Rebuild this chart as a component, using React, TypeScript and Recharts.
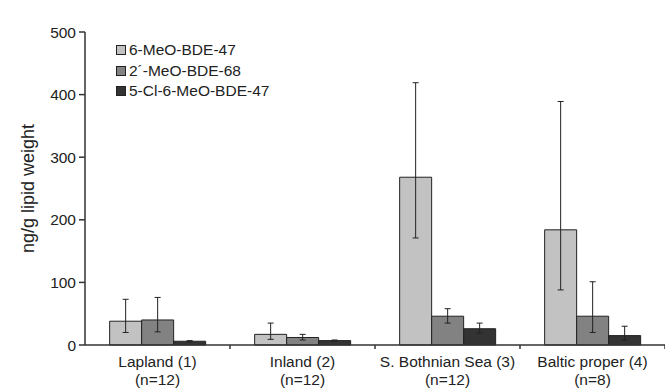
import React from "react";
import { BarChart, Bar, XAxis, YAxis, ErrorBar } from "recharts";

const sites = ["Lapland (1)", "Inland (2)", "S. Bothnian Sea (3)", "Baltic proper (4)"];
const counts = ["(n=12)", "(n=12)", "(n=12)", "(n=8)"];

const seriesNames = ["6-MeO-BDE-47", "2\u00b4-MeO-BDE-68", "5-Cl-6-MeO-BDE-47"];
const seriesColors = ["#c2c2c2", "#828282", "#333333"];

// mean values and error ranges (low / high)
const meoBde47 = [38, 17, 268, 184];
const meoBde47Low = [20, 9, 171, 88];
const meoBde47High = [73, 35, 419, 389];

const meoBde68 = [40, 12, 46, 46];
const meoBde68Low = [21, 8, 35, 20];
const meoBde68High = [76, 17, 58, 101];

const clMeoBde47 = [6, 7, 26, 15];
const clMeoBde47Low = [5, 6, 19, 8];
const clMeoBde47High = [7, 8, 35, 30];

const yTicks = [0, 100, 200, 300, 400, 500];

const data = sites.map((site, i) => ({
  site,
  n: counts[i],
  s1: meoBde47[i],
  e1: [meoBde47[i] - meoBde47Low[i], meoBde47High[i] - meoBde47[i]],
  s2: meoBde68[i],
  e2: [meoBde68[i] - meoBde68Low[i], meoBde68High[i] - meoBde68[i]],
  s3: clMeoBde47[i],
  e3: [clMeoBde47[i] - clMeoBde47Low[i], clMeoBde47High[i] - clMeoBde47[i]],
}));

const W = 665;
const H = 388;
const Y_AXIS_W = 85;
const PLOT_W = W - Y_AXIS_W;
const HALF_BAND = PLOT_W / sites.length / 2;
const FONT = "'Liberation Sans', Arial, sans-serif";
const INK = "#222";

const SiteTick = (props: any) => {
  const { x, y, payload, index } = props;
  return (
    <g>
      <line x1={x + HALF_BAND} x2={x + HALF_BAND} y1={y} y2={y + 4} stroke="#333" strokeWidth={1.5} />
      <text x={x} y={y + 22} textAnchor="middle" fontSize={15.5} fill={INK} fontFamily={FONT}>
        {payload.value}
      </text>
      <text x={x} y={y + 40} textAnchor="middle" fontSize={15.5} fill={INK} fontFamily={FONT}>
        {counts[index]}
      </text>
    </g>
  );
};

// legend drawn as an overlay so it does not eat into the plot area
const LegendBox = () => (
  <div
    style={{
      position: "absolute",
      left: 116,
      top: 40,
      fontFamily: FONT,
      fontSize: 15.5,
      color: INK,
      lineHeight: "20.5px",
      whiteSpace: "nowrap",
    }}
  >
    {seriesNames.map((name, i) => (
      <div key={name} style={{ display: "flex", alignItems: "center" }}>
        <span
          style={{
            display: "inline-block",
            width: 8,
            height: 8,
            background: seriesColors[i],
            border: `1px solid ${INK}`,
            marginRight: 3,
          }}
        />
        {name}
      </div>
    ))}
  </div>
);

export default function App() {
  return (
    <div style={{ position: "absolute", left: 0, top: 0, width: W, height: H, background: "#fff" }}>
      <BarChart
        width={W}
        height={H}
        data={data}
        margin={{ top: 32, right: 0, bottom: 0, left: 0 }}
        barCategoryGap="17%"
        barGap={0}
      >
        <XAxis
          dataKey="site"
          height={43}
          axisLine={{ stroke: "#333", strokeWidth: 1.5 }}
          tickLine={false}
          tickSize={0}
          tickMargin={0}
          interval={0}
          tick={<SiteTick />}
        />
        <YAxis
          width={Y_AXIS_W}
          domain={[0, 500]}
          ticks={yTicks}
          interval={0}
          axisLine={{ stroke: "#333", strokeWidth: 1.5 }}
          tickLine={{ stroke: "#333", strokeWidth: 1.5 }}
          tickSize={6}
          tickMargin={3}
          tick={{ fontSize: 15.5, fill: INK, fontFamily: FONT }}
          label={{
            value: "ng/g lipid weight",
            angle: -90,
            position: "insideLeft",
            offset: 28,
            style: { textAnchor: "middle", fontSize: 18, fill: INK, fontFamily: FONT },
          }}
        />
        <Bar dataKey="s1" name={seriesNames[0]} fill={seriesColors[0]} stroke={INK} strokeWidth={1} isAnimationActive={false}>
          <ErrorBar dataKey="e1" width={3} stroke={INK} strokeWidth={1} />
        </Bar>
        <Bar dataKey="s2" name={seriesNames[1]} fill={seriesColors[1]} stroke={INK} strokeWidth={1} isAnimationActive={false}>
          <ErrorBar dataKey="e2" width={3} stroke={INK} strokeWidth={1} />
        </Bar>
        <Bar dataKey="s3" name={seriesNames[2]} fill={seriesColors[2]} stroke={INK} strokeWidth={1} isAnimationActive={false}>
          <ErrorBar dataKey="e3" width={3} stroke={INK} strokeWidth={1} />
        </Bar>
      </BarChart>
      <LegendBox />
    </div>
  );
}
